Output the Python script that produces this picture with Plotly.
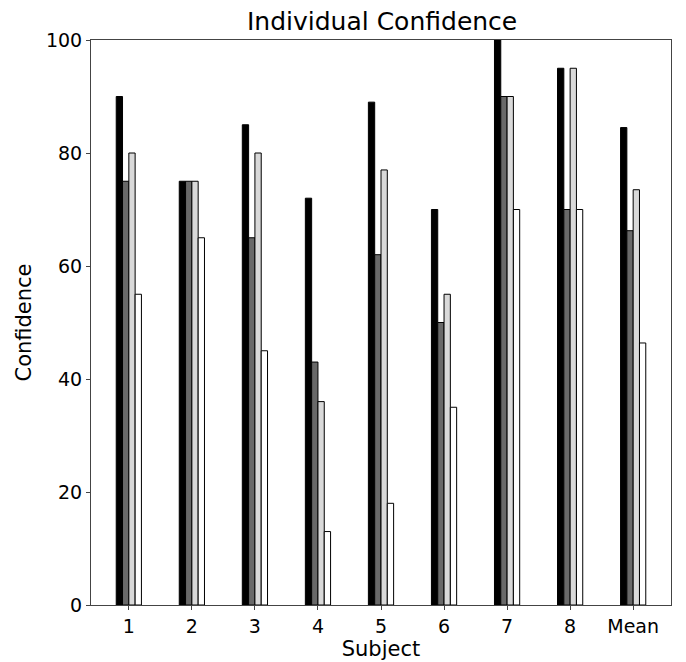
import plotly.graph_objects as go

subjects = ["1", "2", "3", "4", "5", "6", "7", "8", "Mean"]
cond_a = [90, 75, 85, 72, 89, 70, 100, 95, 84.5]
cond_b = [75, 75, 65, 43, 62, 50, 90, 70, 66.25]
cond_c = [80, 75, 80, 36, 77, 55, 90, 95, 73.5]
cond_d = [55, 65, 45, 13, 18, 35, 70, 70, 46.375]

series = [
    ("A", cond_a, "#000000"),
    ("B", cond_b, "#696969"),
    ("C", cond_c, "#d9d9d9"),
    ("D", cond_d, "#ffffff"),
]

font = "DejaVu Sans, sans-serif"
frame = "#444444"

fig = go.Figure()
for name, vals, color in series:
    fig.add_trace(go.Bar(
        x=subjects, y=vals, name=name,
        marker=dict(color=color, line=dict(color="#000000", width=1)),
        showlegend=False,
    ))

fig.update_layout(
    width=686, height=662,
    margin=dict(l=91, r=15, t=40, b=57),
    paper_bgcolor="white", plot_bgcolor="white",
    barmode="group", bargap=0.6, bargroupgap=0,
    font=dict(family=font, color="#000000", size=19),
    title=dict(text="Individual Confidence", x=0.557, xanchor="center",
               y=1 - 21 / 662, yanchor="middle",
               font=dict(family=font, size=25, color="#000000")),
    xaxis=dict(
        type="category", range=[-0.6, 8.6], automargin=False,
        showline=True, linecolor=frame, linewidth=1, mirror=True,
        ticks="outside", ticklen=4, tickcolor=frame,
        showgrid=False, zeroline=False,
        tickfont=dict(size=19),
        title=dict(text="Subject", font=dict(size=21), standoff=2),
    ),
    yaxis=dict(
        range=[0, 100], tickvals=[0, 20, 40, 60, 80, 100], automargin=False,
        showline=True, linecolor=frame, linewidth=1, mirror=True,
        ticks="outside", ticklen=4, tickcolor=frame,
        showgrid=False, zeroline=False,
        tickfont=dict(size=19),
        title=dict(text="Confidence", font=dict(size=21), standoff=8),
    ),
)

fig.write_html("out.html")
